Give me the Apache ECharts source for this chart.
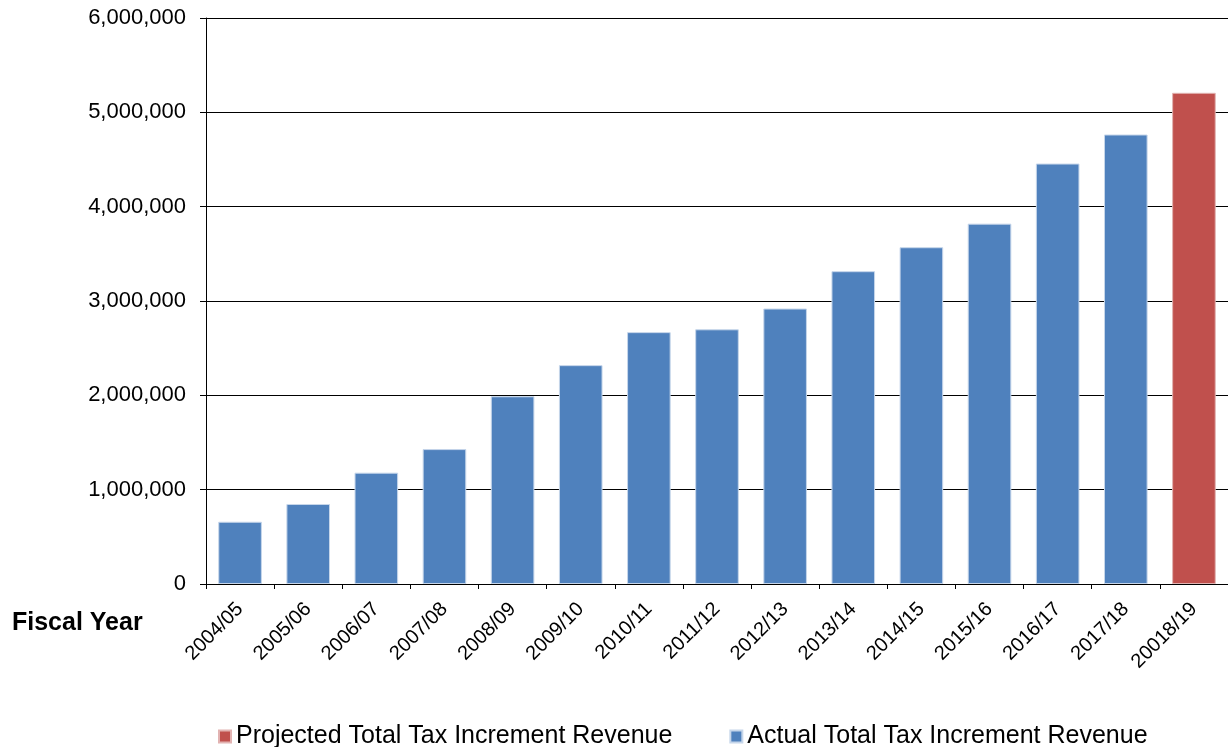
<!DOCTYPE html>
<html>
<head>
<meta charset="utf-8">
<title>Total Tax Increment Revenue by Fiscal Year</title>
<script src="https://cdn.jsdelivr.net/npm/echarts@6/dist/echarts.min.js"></script>
<style>
  html, body { margin: 0; padding: 0; background: #fff; }
  #chart { width: 1228px; height: 747px; }
</style>
</head>
<body>
<div id="chart"></div>
<script>
// Fiscal years on the category axis
const fiscalYears = ['2004/05', '2005/06', '2006/07', '2007/08', '2008/09', '2009/10', '2010/11',
  '2011/12', '2012/13', '2013/14', '2014/15', '2015/16', '2016/17', '2017/18', '20018/19'];

// Actual revenue (dollars); the last year has no actual figure yet
const actualRevenue = [660000, 848000, 1180000, 1430000, 1990000, 2320000, 2670000,
  2700000, 2920000, 3316000, 3570000, 3820000, 4457000, 4765000, null];

// Projected revenue (dollars), only for the final year
const projectedRevenue = [null, null, null, null, null, null, null,
  null, null, null, null, null, null, null, 5207000];

// Value axis ticks
const yTicks = [0, 1000000, 2000000, 3000000, 4000000, 5000000, 6000000];

const FONT = '"Liberation Sans", Arial, sans-serif';
const BLUE = '#4F81BD';
const RED = '#C0504D';

const chart = echarts.init(document.getElementById('chart'), null, { renderer: 'canvas' });

chart.setOption({
  animation: false,
  backgroundColor: '#ffffff',
  textStyle: { fontFamily: FONT, color: '#000' },
  grid: { left: 206, right: 0, top: 18, bottom: 163, containLabel: false },
  legend: {
    left: 213,
    top: 719,
    itemWidth: 12,
    itemHeight: 12,
    itemGap: 57,
    icon: 'rect',
    textStyle: { fontFamily: FONT, fontSize: 25, color: '#000' },
    data: ['Projected Total Tax Increment Revenue', 'Actual Total Tax Increment Revenue']
  },
  graphic: [{
    type: 'text',
    left: 12,
    top: 611,
    style: { text: 'Fiscal Year', font: 'bold 25px ' + FONT, fill: '#000' }
  }],
  xAxis: {
    type: 'category',
    data: fiscalYears,
    boundaryGap: true,
    axisLine: { lineStyle: { color: '#000', width: 1 } },
    axisTick: { show: true, length: 5, lineStyle: { color: '#000' } },
    axisLabel: { rotate: 45, margin: 22, fontSize: 20, color: '#000', fontFamily: FONT, interval: 0 }
  },
  yAxis: {
    type: 'value',
    min: yTicks[0],
    max: yTicks[yTicks.length - 1],
    interval: yTicks[1] - yTicks[0],
    axisLine: { show: true, lineStyle: { color: '#000', width: 1 } },
    axisTick: { show: true, length: 6, lineStyle: { color: '#000' } },
    splitLine: { show: true, lineStyle: { color: '#000', width: 1 } },
    axisLabel: {
      margin: 20, fontSize: 22, color: '#000', fontFamily: FONT,
      formatter: v => v.toLocaleString('en-US')
    }
  },
  series: [
    {
      name: 'Actual Total Tax Increment Revenue',
      type: 'bar',
      data: actualRevenue,
      barWidth: '64%',
      barGap: '-100%',
      itemStyle: { color: BLUE, borderColor: '#c6d6ea', borderWidth: 1 }
    },
    {
      name: 'Projected Total Tax Increment Revenue',
      type: 'bar',
      data: projectedRevenue,
      barWidth: '64%',
      barGap: '-100%',
      itemStyle: { color: RED, borderColor: '#e2b3b2', borderWidth: 1 }
    }
  ]
});
</script>
</body>
</html>
